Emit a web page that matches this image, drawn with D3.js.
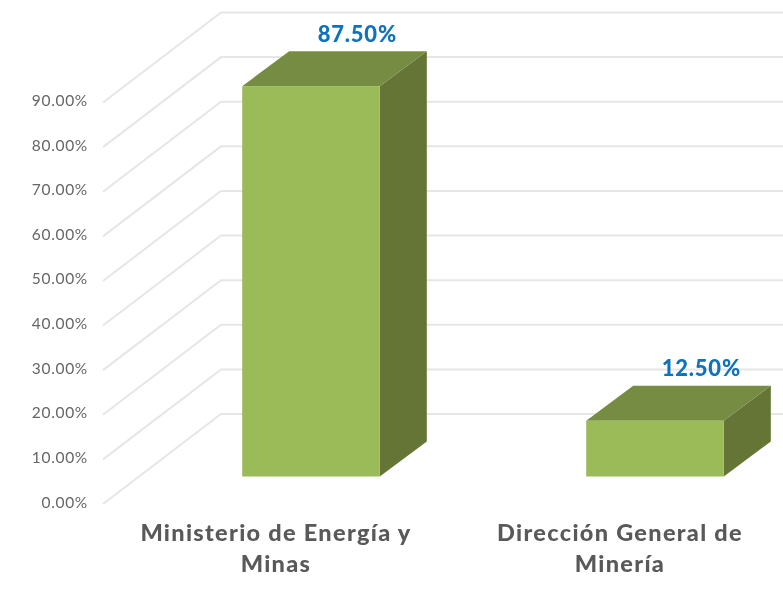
<!DOCTYPE html>
<html lang="en">
<head>
    <meta charset="UTF-8">
    <title>Ministerio de Energía y Minas</title>
    <script src="https://d3js.org/d3.v7.min.js"></script>
    <style>
        html, body { margin: 0; padding: 0; background: #fff; }
        svg { display: block; filter: blur(0.45px); }
        text { font-family: Lato, "Open Sans", sans-serif; }
    </style>
</head>
<body>
    <svg id="chart"></svg>
    <script>
        const categories = ["Ministerio de Energía y Minas", "Dirección General de Minería"];
        const categoryLines = [["Ministerio de Energía y", "Minas"], ["Dirección General de", "Minería"]];
        const values = [87.5, 12.5];
        const ticks = [0, 10, 20, 30, 40, 50, 60, 70, 80, 90];

        const width = 783, height = 590;
        const svg = d3.select("#chart").attr("width", width).attr("height", height);

        // front edge of the floor, and how far the back wall sits from it
        const y = d3.scaleLinear().domain([0, 90]).range([504, 102.5]);
        const wallDx = 118, wallDy = -90;
        const axisX = 103;

        // bars stand part way into the floor
        const barBase = 476.5 - y(0);
        const depthDx = 47, depthDy = -35;
        const x = d3.scaleBand().domain(categories).range([139, 827]).paddingInner(0.6).paddingOuter(0.3);
        const labelShift = -35;

        const fmt = d => d.toFixed(2) + "%";

        // gridlines: diagonal on the side wall, flat on the back wall
        svg.append("g").selectAll("path")
            .data(ticks)
            .join("path")
            .attr("d", d => `M${axisX},${y(d)}L${axisX + wallDx},${y(d) + wallDy}H${width}`)
            .attr("fill", "none")
            .attr("stroke", "#e6e6e6")
            .attr("stroke-width", 2);

        svg.append("g").selectAll("text")
            .data(ticks)
            .join("text")
            .attr("x", 88)
            .attr("y", d => y(d) + 3.5)
            .attr("text-anchor", "end")
            .attr("font-size", 15.5)
            .attr("letter-spacing", 0.7)
            .attr("fill", "#666")
            .text(fmt);

        const bars = svg.append("g").selectAll("g")
            .data(categories.map((c, i) => ({ c, v: values[i], lines: categoryLines[i] })))
            .join("g");

        const barLeft = d => x(d.c);
        const barRight = d => x(d.c) + x.bandwidth();
        const barTop = d => y(d.v) + barBase;
        const barBottom = () => y(0) + barBase;

        // side face
        bars.append("path")
            .attr("d", d => `M${barRight(d)},${barTop(d)}l${depthDx},${depthDy}V${barBottom() + depthDy}l${-depthDx},${-depthDy}Z`)
            .attr("fill", "#647535");
        // top face
        bars.append("path")
            .attr("d", d => `M${barLeft(d)},${barTop(d)}l${depthDx},${depthDy}H${barRight(d) + depthDx}l${-depthDx},${-depthDy}Z`)
            .attr("fill", "#768c42");
        // front face
        bars.append("rect")
            .attr("x", barLeft)
            .attr("y", barTop)
            .attr("width", x.bandwidth())
            .attr("height", d => barBottom() - barTop(d))
            .attr("fill", "#9bbb59");

        bars.append("text")
            .attr("x", d => barRight(d) - 22.5)
            .attr("y", d => barTop(d) + depthDy - 9.5)
            .attr("text-anchor", "middle")
            .attr("font-size", 22)
            .attr("font-weight", 900)
            .attr("letter-spacing", 0.8)
            .attr("fill", "#0f72bd")
            .text(d => fmt(d.v));

        bars.append("text")
            .attr("text-anchor", "middle")
            .attr("font-size", 23.5)
            .attr("font-weight", 900)
            .attr("letter-spacing", 1.3)
            .attr("fill", "#595959")
            .selectAll("tspan")
            .data(d => d.lines.map((t, i) => ({ t, i, c: d.c })))
            .join("tspan")
            .attr("x", d => x(d.c) + x.bandwidth() / 2 + labelShift)
            .attr("y", d => 541 + d.i * 31)
            .text(d => d.t);
    </script>
</body>
</html>
